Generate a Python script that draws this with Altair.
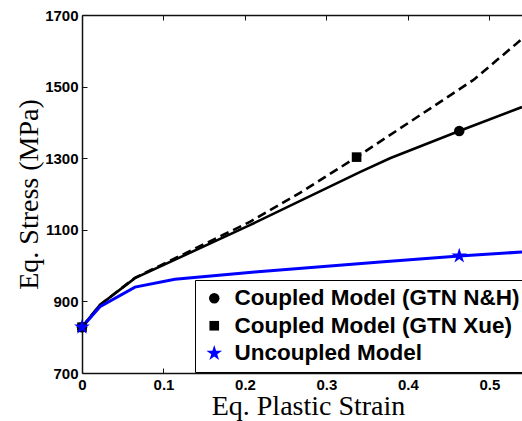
import altair as alt
import pandas as pd

# ---- data ----
nh_strain = [0.0, 0.022, 0.065, 0.206, 0.341, 0.378, 0.463, 0.54]
nh_stress = [828, 890, 965, 1113, 1261, 1300, 1376, 1443]

xue_strain = [0.0, 0.022, 0.065, 0.206, 0.2675, 0.337, 0.48, 0.54]
xue_stress = [828, 890, 966, 1122, 1203, 1303, 1518, 1633]

unc_strain = [0.0, 0.022, 0.065, 0.114, 0.212, 0.366, 0.463, 0.54]
unc_stress = [828, 885, 940, 962, 982, 1010, 1027, 1038]

series_names = ["Coupled Model (GTN N&H)", "Coupled Model (GTN Xue)", "Uncoupled Model"]
marker_series = [series_names[0], series_names[0], series_names[1], series_names[1],
                 series_names[2], series_names[2]]
marker_strain = [0.0, 0.463, 0.0, 0.337, 0.0, 0.463]
marker_stress = [828, 1376, 828, 1303, 828, 1027]

x_ticks = [0, 0.1, 0.2, 0.3, 0.4, 0.5]
y_ticks = [700, 900, 1100, 1300, 1500, 1700]

STAR = ("M0,-1.9L0.43,-0.59L1.81,-0.59L0.69,0.22L1.12,1.54L0,0.73"
        "L-1.12,1.54L-0.69,0.22L-1.81,-0.59L-0.43,-0.59Z")

nh = pd.DataFrame({"strain": nh_strain, "stress": nh_stress})
xue = pd.DataFrame({"strain": xue_strain, "stress": xue_stress})
unc = pd.DataFrame({"strain": unc_strain, "stress": unc_stress})
markers = pd.DataFrame({"series": marker_series, "strain": marker_strain,
                        "stress": marker_stress})

xscale = alt.Scale(domain=[0, 0.54], nice=False, zero=False)
yscale = alt.Scale(domain=[700, 1700], nice=False, zero=False)

inward = {"expr": "-5"}

x_bottom = alt.Axis(
    values=x_ticks, format="~g", orient="bottom", tickSize=inward,
    labelPadding=9, labelFlush=False, labelOverlap=False,
    labelFont="Liberation Sans", labelFontWeight="bold", labelFontSize=15,
    labelColor="black", domainColor="#111111", domainWidth=1.5,
    tickColor="#111111", tickWidth=1, grid=False,
    title="Eq. Plastic Strain", titleFont="Liberation Serif",
    titleFontWeight="normal", titleFontSize=28, titleColor="black",
    titleX=226, titleY=41, titleBaseline="alphabetic", titleAlign="center",
)
x_top = alt.Axis(
    values=x_ticks, orient="top", tickSize=inward, labels=False,
    domainColor="#111111", domainWidth=1.5, tickColor="#111111",
    tickWidth=1, grid=False, title=None,
)
y_left = alt.Axis(
    values=y_ticks, format="d", orient="left", tickSize=inward, labelPadding=9,
    labelFlush=False, labelOverlap=False,
    labelFont="Liberation Sans", labelFontWeight="bold", labelFontSize=15,
    labelColor="black", domainColor="#111111", domainWidth=1.5,
    tickColor="#111111", tickWidth=1, grid=False,
    title="Eq. Stress (MPa)", titleFont="Liberation Serif",
    titleFontWeight="normal", titleFontSize=28, titleColor="black",
    titleX=-45, titleY=179, titleAngle=270, titleBaseline="alphabetic",
    titleAlign="center",
)

y_enc = alt.Y("stress:Q", scale=yscale, axis=y_left)

solid = alt.Chart(nh).mark_line(color="black", strokeWidth=2.6).encode(
    x=alt.X("strain:Q", scale=xscale, axis=x_bottom), y=y_enc)

dashed = alt.Chart(xue).mark_line(color="black", strokeWidth=2.6,
                                  strokeDash=[9, 5]).encode(
    x=alt.X("strain:Q", scale=xscale, axis=x_top), y=y_enc)

blue = alt.Chart(unc).mark_line(color="#0000ff", strokeWidth=3).encode(
    x=alt.X("strain:Q", scale=xscale, axis=None), y=y_enc)

legend = alt.Legend(
    orient="none", legendX=113, legendY=265, title=None,
    strokeColor="black", fillColor="white", padding=7,
    labelFont="Liberation Sans", labelFontWeight="bold", labelFontSize=22.5,
    labelColor="black", labelLimit=0, symbolOffset=1, labelOffset=9,
    rowPadding=4.5,
)

points = alt.Chart(markers).mark_point(filled=True, opacity=1).encode(
    x=alt.X("strain:Q", scale=xscale, axis=None),
    y=y_enc,
    shape=alt.Shape("series:N", scale=alt.Scale(domain=series_names,
                    range=["circle", "square", STAR]), legend=legend),
    color=alt.Color("series:N", scale=alt.Scale(domain=series_names,
                    range=["black", "black", "#0000ff"]), legend=legend),
    size=alt.Size("series:N", scale=alt.Scale(domain=series_names,
                  range=[110, 75, 90]), legend=legend),
)

chart = alt.layer(solid, dashed, blue, points).resolve_axis(
    x="independent"
).properties(
    width=440, height=358,
    padding={"left": 82, "top": 15, "right": 0, "bottom": 48},
    autosize=alt.AutoSizeParams(type="none"),
).configure_view(stroke=None).configure(background="white")

chart.save("out.html", embed_options={"renderer": "svg", "actions": False})
